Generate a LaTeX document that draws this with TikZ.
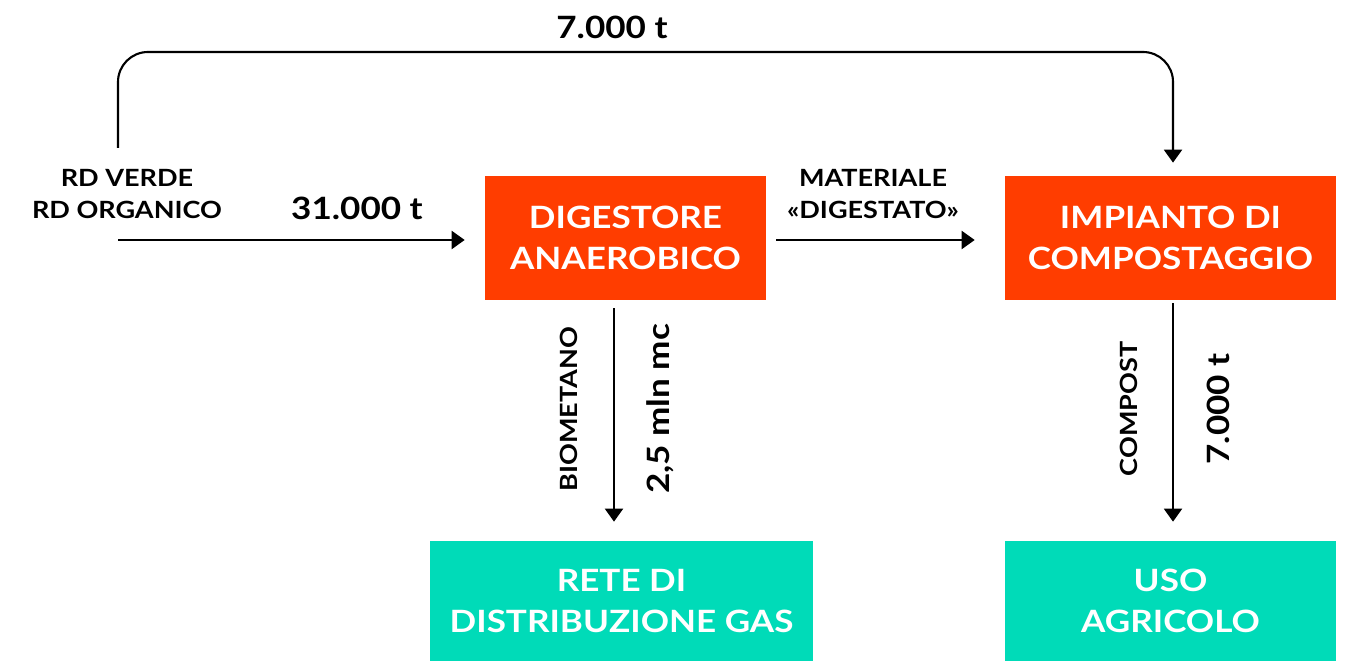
\documentclass[tikz,border=0pt]{standalone}
\usepackage{fontspec}
\setmainfont{Lato}[FakeStretch=1.14]
\usepackage{tikz}
\usetikzlibrary{arrows.meta}
\definecolor{digorange}{HTML}{FF3D00}
\definecolor{usegreen}{HTML}{00DBB8}

\begin{document}
\begin{tikzpicture}[x=0.02cm,y=-0.02cm,
  font=\bfseries,
  redbox/.style={fill=digorange,text=white,align=center,font=\fontsize{17.5}{23}\bfseries\selectfont,inner sep=0pt},
  greenbox/.style={fill=usegreen,text=white,align=center,font=\fontsize{17.5}{23}\bfseries\selectfont,inner sep=0pt},
  qty/.style={font=\fontsize{17.5}{21}\bfseries\selectfont},
  tag/.style={align=center,font=\fontsize{13.5}{18}\bfseries\selectfont},
  flow/.style={line width=1.2pt,-{Triangle[length=0.26cm,width=0.36cm]}}]
\useasboundingbox (0,0) rectangle (1348,661);
% boxes
\node[redbox,minimum width=5.62cm,minimum height=2.48cm] (dig) at (625.5,238) {DIGESTORE\\ANAEROBICO};
\node[redbox,minimum width=6.62cm,minimum height=2.48cm] (comp) at (1170.5,238) {IMPIANTO DI\\COMPOSTAGGIO};
\node[greenbox,minimum width=7.66cm,minimum height=2.4cm] (rete) at (621.5,601) {RETE DI\\DISTRIBUZIONE GAS};
\node[greenbox,minimum width=6.62cm,minimum height=2.4cm] (uso) at (1170.5,601) {USO\\AGRICOLO};
% source
\node[tag] (src) at (127,194) {RD VERDE\\RD ORGANICO};
\coordinate (in) at (118,240);
\coordinate (up) at (118,148);
% arrows
\draw[flow,shorten >=0.4cm] (in) -- (in -| dig.west);
\draw[flow,shorten <=0.2cm,shorten >=0.6cm] (in -| dig.east) -- (in -| comp.west);
\draw[flow,rounded corners=0.6cm,shorten >=0.26cm] (up) -- (118,52) -- (1173,52) -- (comp.north -| 1173,0);
\draw[flow,shorten <=0.16cm,shorten >=0.38cm] (dig.south -| 614,0) -- (rete.north -| 614,0);
\draw[flow,shorten <=0.06cm,shorten >=0.38cm] (comp.south -| 1173,0) -- (uso.north -| 1173,0);
% labels
\node[qty] (top) at (612,27) {7.000 t};
\node[qty] (inq) at (357,208) {31.000 t};
\node[tag] (mat) at (873,194) {MATERIALE\\«DIGESTATO»};
\node[tag,rotate=90] (bio) at (569,409) {BIOMETANO};
\node[qty,rotate=90] (gas) at (660,409) {2,5 mln mc};
\node[tag,rotate=90] (cmp) at (1129,409) {COMPOST};
\node[qty,rotate=90] (cq) at (1218,409) {7.000 t};
\end{tikzpicture}
\end{document}
